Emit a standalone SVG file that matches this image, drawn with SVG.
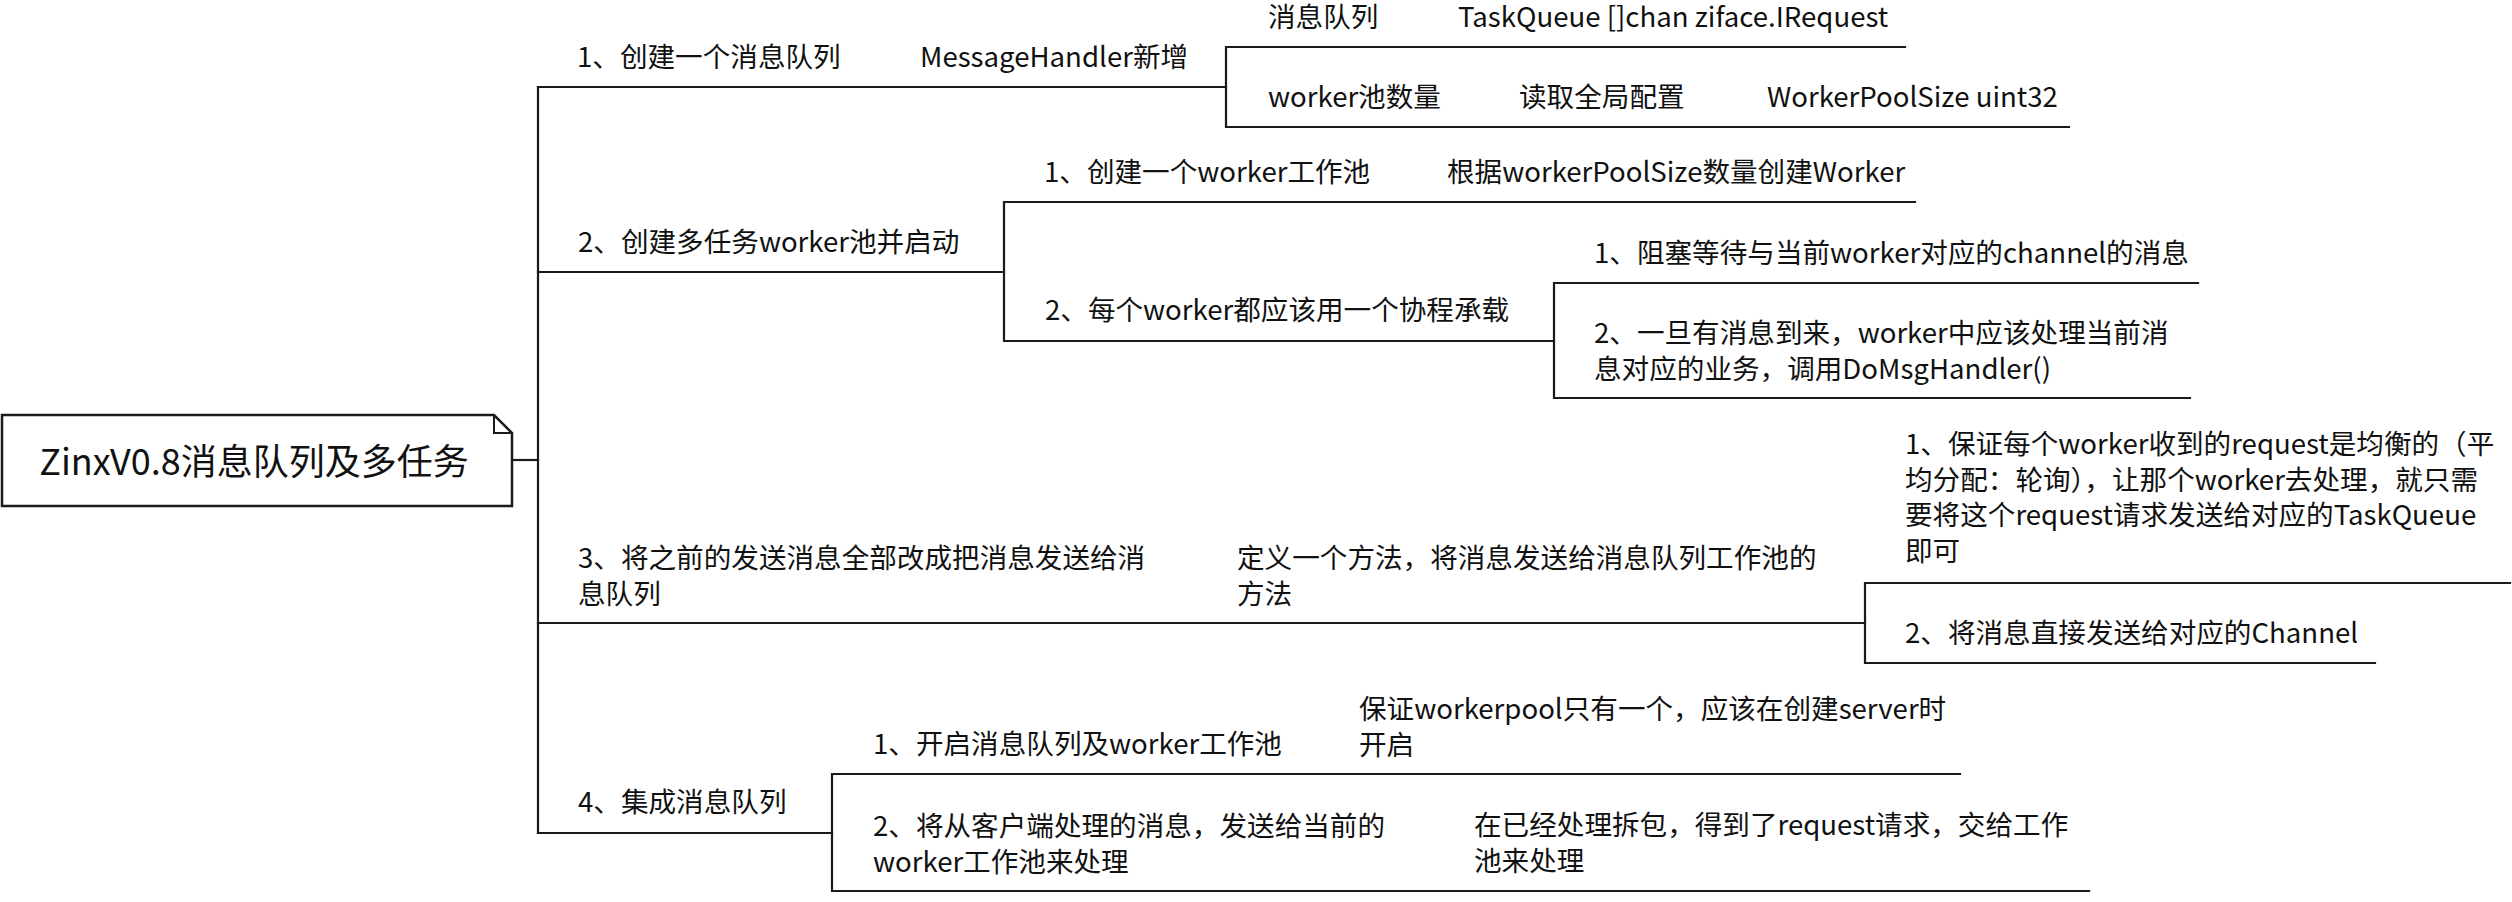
<svg xmlns="http://www.w3.org/2000/svg" width="2512" height="902" viewBox="0 0 2512 902">
<style>
text{font-family:"Noto Sans CJK SC","Noto Sans",sans-serif;font-size:27.6px;fill:#111}
.root{font-size:36px}
.ln{fill:none;stroke:#1a1a1a;stroke-width:2.2;stroke-linecap:square}
</style>
<rect width="2512" height="902" fill="#fff"/>
<g id="connectors" class="ln">
<path d="M512 460 H538"/>
<path d="M538 87 V833"/>
<path d="M538 87 H1226"/>
<path d="M1905 47 H1226 V127 H2069"/>
<path d="M538 272 H1004"/>
<path d="M1915 202 H1004 V341 H1554"/>
<path d="M2198 283 H1554 V398 H2190"/>
<path d="M538 623 H1865"/>
<path d="M2510 583 H1865 V663 H2375"/>
<path d="M538 833 H832"/>
<path d="M1960 774 H832 V891 H2089"/>
</g>
<g id="root">
<path d="M2 415 H494 L512 433 V506 H2 Z" fill="#fff" stroke="#1a1a1a" stroke-width="2.5"/>
<path d="M494 415 V433 H512" fill="none" stroke="#1a1a1a" stroke-width="2"/>
<text class="root" x="254" y="475" text-anchor="middle">ZinxV0.8消息队列及多任务</text>
</g>
<g id="n1"><text x="577" y="67">1、创建一个消息队列</text></g>
<g id="n1a"><text x="920" y="67">MessageHandler新增</text></g>
<g id="n1a1"><text x="1268" y="27">消息队列</text></g>
<g id="n1a1v"><text x="1458" y="27">TaskQueue []chan ziface.IRequest</text></g>
<g id="n1a2"><text x="1268" y="107">worker池数量</text></g>
<g id="n1a2b"><text x="1519" y="107">读取全局配置</text></g>
<g id="n1a2c"><text x="1767" y="107">WorkerPoolSize uint32</text></g>
<g id="n2"><text x="578" y="252">2、创建多任务worker池并启动</text></g>
<g id="n2a"><text x="1044" y="182">1、创建一个worker工作池</text></g>
<g id="n2a1"><text x="1447" y="182">根据workerPoolSize数量创建Worker</text></g>
<g id="n2b"><text x="1045" y="320">2、每个worker都应该用一个协程承载</text></g>
<g id="n2b1"><text x="1594" y="263">1、阻塞等待与当前worker对应的channel的消息</text></g>
<g id="n2b2"><text x="1594" y="343">2、一旦有消息到来，worker中应该处理当前消</text><text x="1594" y="378.5">息对应的业务，调用DoMsgHandler()</text></g>
<g id="n3"><text x="578" y="568">3、将之前的发送消息全部改成把消息发送给消</text><text x="578" y="603.5">息队列</text></g>
<g id="n3a"><text x="1237" y="568">定义一个方法，将消息发送给消息队列工作池的</text><text x="1237" y="603.5">方法</text></g>
<g id="n3a1"><text x="1905" y="454">1、保证每个worker收到的request是均衡的（平</text><text x="1905" y="489.5">均分配：轮询），让那个worker去处理，就只需</text><text x="1905" y="525">要将这个request请求发送给对应的TaskQueue</text><text x="1905" y="560.5">即可</text></g>
<g id="n3a2"><text x="1905" y="643">2、将消息直接发送给对应的Channel</text></g>
<g id="n4"><text x="578" y="812">4、集成消息队列</text></g>
<g id="n4a"><text x="873" y="754">1、开启消息队列及worker工作池</text></g>
<g id="n4a1"><text x="1359" y="719">保证workerpool只有一个，应该在创建server时</text><text x="1359" y="754.5">开启</text></g>
<g id="n4b"><text x="873" y="836">2、将从客户端处理的消息，发送给当前的</text><text x="873" y="871.5">worker工作池来处理</text></g>
<g id="n4b1"><text x="1474" y="835">在已经处理拆包，得到了request请求，交给工作</text><text x="1474" y="870.5">池来处理</text></g>
</svg>
